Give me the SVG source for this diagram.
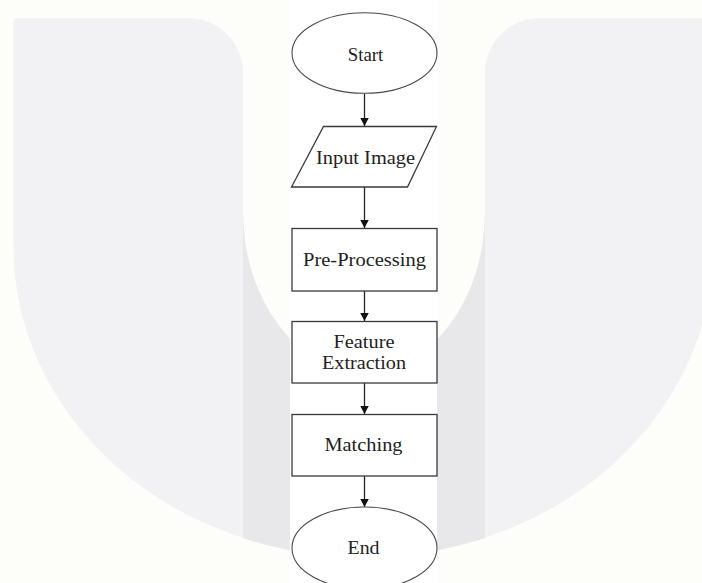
<svg xmlns="http://www.w3.org/2000/svg" width="702" height="583" viewBox="0 0 702 583">
  <defs>
    <style>
      .shape { fill: #ffffff; stroke: #3a3a3a; stroke-width: 1.3; }
      .oval { fill: #ffffff; stroke: #4a4a4a; stroke-width: 1.1; }
      .label { font-family: "Liberation Serif", "Times New Roman", serif; font-size: 18px; fill: #222222; text-anchor: middle; }
      .edge { stroke: #222222; stroke-width: 1.3; fill: none; }
    </style>
    <marker id="arrow" markerUnits="userSpaceOnUse" markerWidth="9" markerHeight="9" refX="8.5" refY="4.5" orient="auto">
      <path d="M0,0 L8.5,4.5 L0,9 Z" fill="#111111"/>
    </marker>
  </defs>

  <!-- page background -->
  <rect x="0" y="0" width="702" height="583" fill="#fdfdfa"/>

  <!-- large U-shaped backdrop -->
  <g id="backdrop">
    <path d="M13.5,22 Q13.5,18 17.5,18 L188,18 A55,55 0 0 1 243,73 L243,212 A121,160 0 0 0 485,212 L485,73 A55,55 0 0 1 540,18 L720,18 L720,247 L713.5,247 A350,310 0 0 1 13.5,247 Z" fill="#f2f2f4"/>
    <path d="M243,212 L243,538 A350,310 0 0 0 485,538 L485,212 A121,160 0 0 1 243,212 Z" fill="#e8e8eb"/>
    <rect x="290" y="0" width="147" height="583" fill="#ffffff"/>
  </g>

  <!-- connectors -->
  <g id="connectors">
    <line class="edge" x1="364.5" y1="93.5" x2="364.5" y2="126" marker-end="url(#arrow)"/>
    <line class="edge" x1="364.5" y1="187" x2="364.5" y2="228" marker-end="url(#arrow)"/>
    <line class="edge" x1="364.5" y1="291" x2="364.5" y2="321" marker-end="url(#arrow)"/>
    <line class="edge" x1="364.5" y1="383" x2="364.5" y2="414" marker-end="url(#arrow)"/>
    <line class="edge" x1="364.5" y1="476" x2="364.5" y2="507" marker-end="url(#arrow)"/>
  </g>

  <g id="start">
    <ellipse class="oval" cx="364.5" cy="53" rx="72.5" ry="40.3"/>
    <text class="label" x="365.5" y="60.5" textLength="35.5" lengthAdjust="spacingAndGlyphs">Start</text>
  </g>

  <g id="input-image">
    <polygon class="shape" points="323.5,126.5 436.5,126.5 407.5,187 291.5,187"/>
    <text class="label" x="365.5" y="164" textLength="99" lengthAdjust="spacingAndGlyphs">Input Image</text>
  </g>

  <g id="pre-processing">
    <rect class="shape" x="292" y="228.5" width="145" height="62.5"/>
    <text class="label" x="364.5" y="266" textLength="123" lengthAdjust="spacingAndGlyphs">Pre-Processing</text>
  </g>

  <g id="feature-extraction">
    <rect class="shape" x="292" y="321.5" width="145" height="61.5"/>
    <text class="label" x="364" y="348" textLength="61" lengthAdjust="spacingAndGlyphs">Feature</text>
    <text class="label" x="364" y="369" textLength="84" lengthAdjust="spacingAndGlyphs">Extraction</text>
  </g>

  <g id="matching">
    <rect class="shape" x="292" y="414.5" width="145" height="61.5"/>
    <text class="label" x="363.5" y="451" textLength="78" lengthAdjust="spacingAndGlyphs">Matching</text>
  </g>

  <g id="end">
    <ellipse class="oval" cx="364.5" cy="548" rx="72.5" ry="41"/>
    <text class="label" x="363.5" y="554" textLength="32" lengthAdjust="spacingAndGlyphs">End</text>
  </g>
</svg>
